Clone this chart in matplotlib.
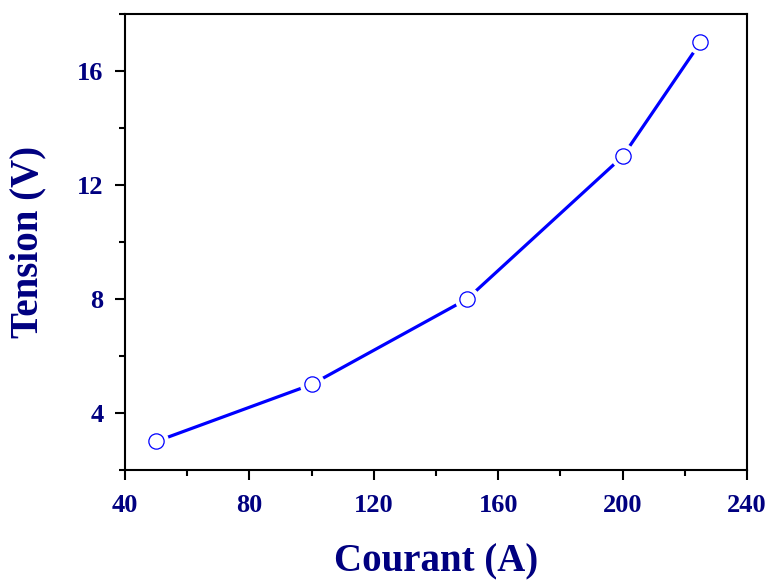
import numpy as np
import matplotlib
matplotlib.use("Agg")
import matplotlib.pyplot as plt
from matplotlib.ticker import MultipleLocator

# Data
courant = [50, 100, 150, 200, 225]
tension = [3, 5, 8, 13, 17]

navy = "#000080"
blue = "#0000FF"

plt.rcParams["font.family"] = ["Liberation Serif", "DejaVu Serif"]
plt.rcParams["font.weight"] = "bold"

fig = plt.figure(figsize=(7.71, 5.80), dpi=100)
ax = fig.add_axes([0.1621, 0.1897, 0.8068, 0.7862])

# line, then white halo markers for the gap, then open circles
ax.plot(courant, tension, color=blue, linewidth=2.3, zorder=2)
ax.plot(courant, tension, linestyle="none", marker="o", markersize=17,
        markerfacecolor="white", markeredgecolor="white", zorder=3)
ax.plot(courant, tension, linestyle="none", marker="o", markersize=11,
        markerfacecolor="white", markeredgecolor=blue, markeredgewidth=0.9,
        zorder=4)

ax.set_xlim(40, 240)
ax.set_ylim(2, 18)
ax.xaxis.set_major_locator(MultipleLocator(40))
ax.xaxis.set_minor_locator(MultipleLocator(20))
ax.yaxis.set_major_locator(MultipleLocator(4))
ax.yaxis.set_minor_locator(MultipleLocator(2))
ax.set_yticks([4, 8, 12, 16])

for s in ax.spines.values():
    s.set_linewidth(1.5)

ax.tick_params(which="major", direction="out", length=7.5, width=1.5,
               labelsize=19, labelcolor=navy)
ax.tick_params(which="minor", direction="out", length=4, width=1.5)
ax.tick_params(axis="x", pad=10)
ax.tick_params(axis="y", pad=8)
for lab in ax.get_xticklabels() + ax.get_yticklabels():
    lab.set_fontweight("bold")

ax.set_xlabel("Courant (A)", fontsize=28, fontweight="bold", color=navy,
              labelpad=19)
ax.set_ylabel("Tension (V)", fontsize=28, fontweight="bold", color=navy,
              labelpad=22)

fig.savefig("out.png", dpi=100)
